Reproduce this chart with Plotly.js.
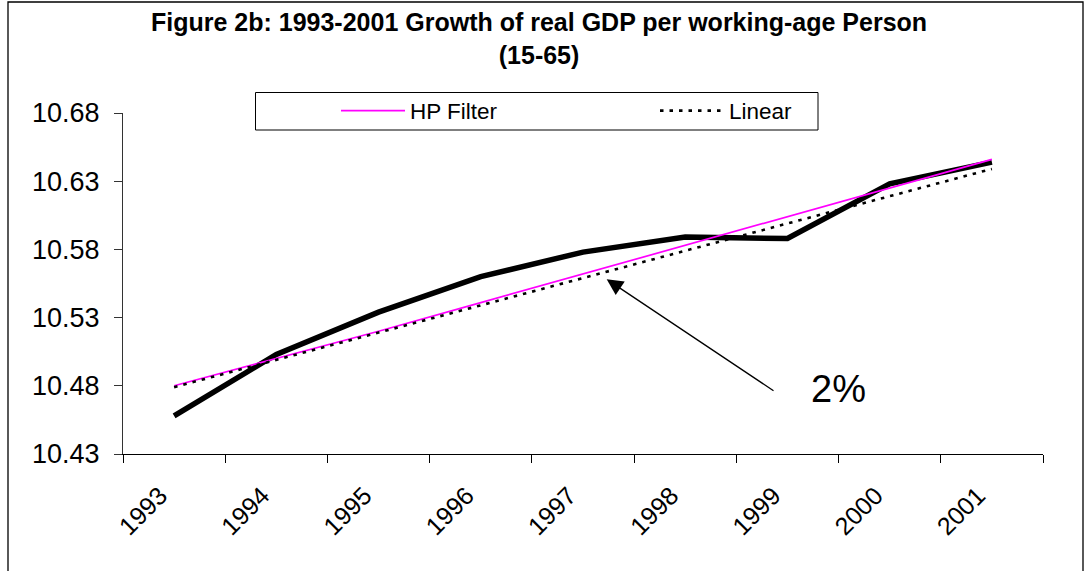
<!DOCTYPE html>
<html>
<head>
<meta charset="utf-8">
<script src="https://cdn.plot.ly/plotly-3.0.1.min.js"></script>
<style>
html,body{margin:0;padding:0;background:#fff;}
#chart{width:1089px;height:571px;}
</style>
</head>
<body>
<div id="chart"></div>
<script>
// ---- data ----
const years = ['1993','1994','1995','1996','1997','1998','1999','2000','2001'];
const actualGdp   = [10.458, 10.503, 10.534, 10.560, 10.578, 10.589, 10.588, 10.628, 10.644];
const hpFilter    = [10.480, 10.500, 10.520, 10.541, 10.562, 10.583, 10.604, 10.625, 10.646];
const linearTrend = [10.479, 10.499, 10.519, 10.539, 10.559, 10.579, 10.599, 10.619, 10.639];
const yTickVals   = [10.43, 10.48, 10.53, 10.58, 10.63, 10.68];
const yTickText   = ['10.43', '10.48', '10.53', '10.58', '10.63', '10.68'];
const titleLines  = ['Figure 2b: 1993-2001 Growth of real GDP per working-age Person', '(15-65)'];
const arrowLabel  = '2%';

const FONT = 'Liberation Sans, Arial, sans-serif';

const traces = [
  {
    x: years, y: actualGdp, name: 'Actual', type: 'scatter', mode: 'lines',
    line: {color: '#000000', width: 5.5}, showlegend: false, hoverinfo: 'x+y'
  },
  {
    x: years, y: hpFilter, name: 'HP Filter', type: 'scatter', mode: 'lines',
    line: {color: '#FF00FF', width: 1.7}
  },
  {
    x: years, y: linearTrend, name: 'Linear', type: 'scatter', mode: 'lines',
    line: {color: '#000000', width: 2.6, dash: '3.5px,6px'}
  }
];

// plot area in pixels: left 123, right 1043, top 113, bottom 454
const L = 123, R = 1043, T = 113, B = 454;
const px = v => (v - L) / (R - L);
const py = v => (B - v) / (B - T);

const layout = {
  width: 1089, height: 571,
  margin: {l: L, r: 1089 - R, t: T, b: 571 - B, pad: 0},
  paper_bgcolor: '#ffffff', plot_bgcolor: '#ffffff',
  font: {family: FONT, color: '#000000'},
  title: {
    text: '<b>' + titleLines[0] + '</b><br><b>' + titleLines[1] + '</b>',
    font: {family: FONT, size: 25, color: '#000000'},
    xref: 'container', x: 0.495, xanchor: 'center',
    yref: 'container', y: 1 - 31 / 571, yanchor: 'middle'
  },
  xaxis: {
    type: 'category', range: [-0.5, 8.5], fixedrange: true,
    tickson: 'boundaries', ticks: 'outside', ticklen: 8, tickwidth: 1, tickcolor: '#000',
    showline: true, linecolor: '#000', linewidth: 1, mirror: false,
    showgrid: false, zeroline: false,
    tickangle: -45, ticklabelstandoff: 16, ticklabelshift: -14,
    tickfont: {family: FONT, size: 25, color: '#000'}
  },
  yaxis: {
    range: [10.43, 10.68], fixedrange: true,
    tickmode: 'array', tickvals: yTickVals, ticktext: yTickText,
    ticks: 'outside', ticklen: 8, tickwidth: 1, tickcolor: '#333',
    showline: true, linecolor: '#333', linewidth: 1,
    showgrid: false, zeroline: false, ticklabelstandoff: 9,
    tickfont: {family: FONT, size: 27, color: '#000'}
  },
  legend: {
    orientation: 'h', xref: 'paper', yref: 'paper',
    x: px(336), y: py(111), xanchor: 'left', yanchor: 'middle',
    bgcolor: 'rgba(0,0,0,0)', borderwidth: 0,
    font: {family: FONT, size: 22.5, color: '#000'},
    itemwidth: 64, entrywidth: 240, entrywidthmode: 'pixels',
    traceorder: 'normal'
  },
  shapes: [
    // outer chart frame
    {type: 'rect', xref: 'paper', yref: 'paper', x0: px(8), x1: px(1083), y0: py(580), y1: py(2),
     line: {color: '#000', width: 1.3}, fillcolor: 'rgba(0,0,0,0)', layer: 'above'},
    // legend frame
    {type: 'rect', xref: 'paper', yref: 'paper', x0: px(255.5), x1: px(818), y0: py(130), y1: py(92.5),
     line: {color: '#000', width: 1}, fillcolor: 'rgba(0,0,0,0)', layer: 'above'}
  ],
  annotations: [
    {
      xref: 'paper', yref: 'paper', x: px(606.7), y: py(279.3),
      axref: 'pixel', ayref: 'pixel', ax: 775 - 606.7, ay: 391.7 - 279.3,
      text: '', showarrow: true, arrowhead: 2, arrowsize: 2.5, arrowwidth: 1.3, arrowcolor: '#000'
    },
    {
      xref: 'paper', yref: 'paper', x: px(838.5), y: py(389), xanchor: 'center', yanchor: 'middle',
      text: arrowLabel, showarrow: false, font: {family: FONT, size: 38, color: '#000'}
    }
  ]
};

Plotly.newPlot('chart', traces, layout, {displayModeBar: false, staticPlot: true});
</script>
</body>
</html>
